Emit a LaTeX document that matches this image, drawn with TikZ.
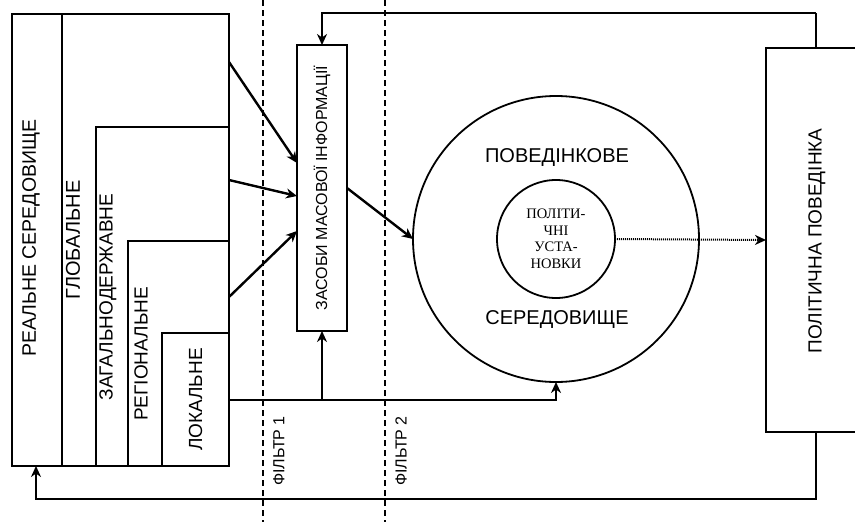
\documentclass[tikz,border=0pt]{standalone}
\usepackage{fontspec}
\setmainfont{Liberation Sans}
\newfontfamily\serifcyr{Liberation Serif}
\usetikzlibrary{arrows.meta}
\tikzset{box/.style={shape=rectangle, draw, line width=2.4pt, inner sep=0pt, outer sep=0pt, anchor=north west},
ring/.style={shape=circle, draw, line width=1.8pt, inner sep=0pt, outer sep=0pt},
upword/.style={rotate=90, inner sep=0pt, font=\fontsize{19}{21}\selectfont},
arr/.style={line width=2.4pt, -{Stealth[length=11pt,width=10pt,inset=3.5pt]}},
link/.style={line width=2.4pt},
filterline/.style={line width=2.2pt, dash pattern=on 6pt off 4pt}}

\begin{document}
\begin{tikzpicture}[x=1pt,y=-1pt]
\useasboundingbox (0,0) rectangle (855,522);
\clip (0,0) rectangle (855,522);
% filters
\draw[filterline] (263,0) -- (263,522);
\draw[filterline] (385,0) -- (385,522);
\node[upword, font=\fontsize{16}{18}\selectfont] (f1) at (279,451) {ФІЛЬТР 1};
\node[upword, font=\fontsize{16}{18}\selectfont] (f2) at (401,451) {ФІЛЬТР 2};
% nested environments
\node[box, minimum width=217pt, minimum height=452pt] (real) at (12,14) {};
\node[box, minimum width=167pt, minimum height=452pt] (global) at (62,14) {};
\node[box, minimum width=133pt, minimum height=339pt] (state) at (96,127) {};
\node[box, minimum width=101pt, minimum height=225pt] (region) at (128,241) {};
\node[box, minimum width=67pt, minimum height=133pt] (local) at (162,333) {};
\node[upword, font=\fontsize{19.5}{21}\selectfont] (realtext) at (31,238) {РЕАЛЬНЕ СЕРЕДОВИЩЕ};
\node[upword, font=\fontsize{20}{22}\selectfont] (globaltext) at (73,240) {ГЛОБАЛЬНЕ};
\node[upword] (statetext) at (108,297) {ЗАГАЛЬНОДЕРЖАВНЕ};
\node[upword] (regiontext) at (141,354) {РЕГІОНАЛЬНЕ};
\node[upword] (localtext) at (local.center) {ЛОКАЛЬНЕ};
% media
\node[box, minimum width=50pt, minimum height=286pt] (media) at (297,45) {};
\node[upword, font=\fontsize{16}{18}\selectfont] (mediatext) at (media.center) {ЗАСОБИ МАСОВОЇ ІНФОРМАЦІЇ};
% behavioural environment
\node[ring, minimum size=286pt] (env) at (556,239) {};
\node[ring, minimum size=118pt, align=center, font=\serifcyr\fontsize{14.5}{16.5}\selectfont] (attit) at (556,239) {ПОЛІТИ-\\ЧНІ\\УСТА-\\НОВКИ};
\node[font=\fontsize{20}{22}\selectfont] (envtop) at (557,158) {ПОВЕДІНКОВЕ};
\node[font=\fontsize{20}{22}\selectfont] (envbot) at (557,320) {СЕРЕДОВИЩЕ};
% political behaviour
\node[box, minimum width=120pt, minimum height=384pt] (behav) at (766,48) {};
\node[upword] (behavtext) at (817,241) {ПОЛІТИЧНА ПОВЕДІНКА};
% connectors
\coordinate (g1) at (229,62);
\coordinate (g2) at (229,180);
\coordinate (g3) at (229,297);
\coordinate (m1) at (297,163);
\coordinate (m2) at (297,196);
\coordinate (m3) at (297,231);
\draw[arr] (g1) -- (m1);
\draw[arr] (g2) -- (m2);
\draw[arr] (g3) -- (m3);
\draw[arr] (media.east) -- (env.west);
\draw[line width=2pt, dash pattern=on 1pt off 1pt, -{Stealth[length=11pt,width=10pt,inset=3.5pt]}] (attit.east) -- (behav.west);
\coordinate (l1) at (229,400);
\coordinate (l2) at (322,400);
\draw[arr] (l1) -| (env.south);
\draw[arr] (l2) -- (media.south);
\coordinate (b1) at (816,48);
\coordinate (b2) at (816,13);
\coordinate (b3) at (816,432);
\coordinate (b4) at (816,499);
\coordinate (r1) at (36,466);
\draw[link] (b1) -- (b2);
\draw[arr] (b2) -| (media.north);
\draw[arr] (b3) -- (b4) -| (r1);
\end{tikzpicture}
\end{document}
